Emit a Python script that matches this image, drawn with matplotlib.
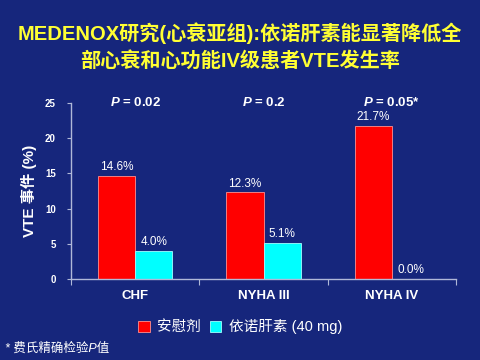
import numpy as np
import matplotlib.pyplot as plt

plt.rcParams['font.family'] = ['Liberation Sans', 'Noto Sans CJK SC', 'DejaVu Sans']
plt.rcParams['mathtext.fontset'] = 'custom'
plt.rcParams['mathtext.bfit'] = 'Liberation Sans:bold:italic'

# data
categories = ['CHF', 'NYHA III', 'NYHA IV']
placebo = [14.6, 12.3, 21.7]
enox = [4.0, 5.1, 0.0]
p_labels = ['0.02', '0.2', '0.05*']
series_names = ['安慰剂', '依诺肝素 (40 mg)']
yticks = [0, 5, 10, 15, 20, 25]

bg = '#16267c'
red = '#ff0000'
cyan = '#00ffff'

fig = plt.figure(figsize=(4.8, 3.6), dpi=100, facecolor=bg)
ax = fig.add_axes([0.148, 0.225, 0.802, 0.489], facecolor=bg)

x = np.arange(len(categories)) + 0.5
w = 0.29
b1 = ax.bar(x - w / 2, placebo, w, color=red, edgecolor='#ff9090', linewidth=0.6)
b2 = ax.bar(x + w / 2, enox, w, color=cyan, edgecolor='#a0ffff', linewidth=0.6)

for bars, vals in [(b1, placebo), (b2, enox)]:
    for r, v in zip(bars, vals):
        ax.text(r.get_x() + r.get_width() / 2, v + 0.4, f'{v:.1f}%',
                ha='center', va='bottom', color='white', fontsize=8.5)

for xi, p in zip(x, p_labels):
    ax.text(xi, 25, '$\\mathbfit{P}$' + f' = {p}', ha='center', va='center', color='white',
            fontsize=9.5, fontweight='bold')

ax.set_xlim(0, 3)
ax.set_ylim(0, 25)
ax.set_yticks(yticks)
ax.set_yticklabels([str(t) for t in yticks], fontsize=7, fontweight='bold', color='white')
ax.set_xticks([0, 1, 2, 3])
ax.set_xticklabels([])
ax.set_xticks(x, minor=True)
ax.set_xticklabels(categories, minor=True, fontsize=9.5, fontweight='bold', color='white')
ax.tick_params(axis='x', which='minor', length=0, pad=8)
ax.tick_params(axis='x', which='major', length=4, color='#b0b8d8')
ax.tick_params(axis='y', length=3, color='#b0b8d8', pad=8)
for s in ['top', 'right']:
    ax.spines[s].set_visible(False)
for s in ['left', 'bottom']:
    ax.spines[s].set_color('#b0b8d8')
    ax.spines[s].set_linewidth(1.0)

ax.set_ylabel('VTE 事件 (%)', color='white', fontsize=11, fontweight='bold', labelpad=6)

fig.text(0.5, 0.87, 'MEDENOX研究(心衰亚组):依诺肝素能显著降低全\n部心衰和心功能IV级患者VTE发生率',
         ha='center', va='center', color='#ffff33', fontsize=14.5, fontweight='bold',
         linespacing=1.45)

leg = fig.legend([b1, b2], series_names, loc='center', bbox_to_anchor=(0.5, 0.092),
                 ncol=2, frameon=False, fontsize=10.5, labelcolor='white',
                 handlelength=0.8, handleheight=0.8, handletextpad=0.5, columnspacing=0.6)

fig.text(0.01, 0.033, '* 费氏精确检验P值', color='white', fontsize=9, fontstyle='italic',
         ha='left', va='center')

fig.savefig('out.png', dpi=100, facecolor=bg)
